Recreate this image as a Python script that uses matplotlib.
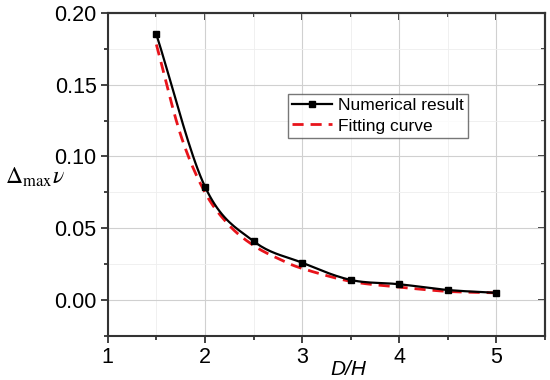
import matplotlib
matplotlib.use('Agg')
import matplotlib.pyplot as plt
import numpy as np
from matplotlib.ticker import MultipleLocator, FormatStrFormatter

# data
dh = [1.5, 2.0, 2.5, 3.0, 3.5, 4.0, 4.5, 5.0]
numerical = [0.185, 0.079, 0.041, 0.026, 0.014, 0.011, 0.007, 0.005]
fit_x = [1.5, 1.75, 2.0, 2.25, 2.5, 2.75, 3.0, 3.5, 4.0, 4.5, 5.0]
fit_y = [0.178, 0.115, 0.075, 0.052, 0.038, 0.029, 0.022, 0.013, 0.009, 0.006, 0.005]


def smooth(x, y, n=20):
    # catmull-rom spline, only for drawing a smooth line through the points
    x = np.asarray(x, float)
    y = np.asarray(y, float)
    px = np.concatenate([[2 * x[0] - x[1]], x, [2 * x[-1] - x[-2]]])
    py = np.concatenate([[2 * y[0] - y[1]], y, [2 * y[-1] - y[-2]]])
    xs, ys = [], []
    t = np.linspace(0, 1, n, endpoint=False)
    for i in range(1, len(px) - 2):
        for p, out in ((px, xs), (py, ys)):
            p0, p1, p2, p3 = p[i - 1], p[i], p[i + 1], p[i + 2]
            out.extend(0.5 * (2 * p1 + (-p0 + p2) * t + (2 * p0 - 5 * p1 + 4 * p2 - p3) * t ** 2
                              + (-p0 + 3 * p1 - 3 * p2 + p3) * t ** 3))
    xs.append(x[-1])
    ys.append(y[-1])
    return xs, ys


plt.rcParams['font.family'] = ['Liberation Sans', 'DejaVu Sans']
plt.rcParams['mathtext.fontset'] = 'stix'

fig = plt.figure(figsize=(5.5, 3.8), dpi=100)
ax = fig.add_axes([0.196, 0.116, 0.795, 0.850])

sx, sy = smooth(dh, numerical)
ax.plot(sx, sy, color='black', lw=1.6, zorder=3)
ax.plot(dh, numerical, 's', color='black', ms=5, zorder=4)
ax.plot([], [], '-s', color='black', lw=1.6, ms=4, label='Numerical result')

fx, fy = smooth(fit_x, fit_y)
ax.plot(fx, fy, '--', color='#e8141b', lw=2.0, dashes=(4, 2.5), zorder=2,
        label='Fitting curve')

ax.set_xlim(1, 5.5)
ax.set_ylim(-0.025, 0.20)
ax.xaxis.set_major_locator(MultipleLocator(1))
ax.xaxis.set_minor_locator(MultipleLocator(0.5))
ax.yaxis.set_major_locator(MultipleLocator(0.05))
ax.yaxis.set_minor_locator(MultipleLocator(0.025))
ax.yaxis.set_major_formatter(FormatStrFormatter('%.2f'))

ax.grid(which='major', color='#d0d0d0', lw=0.8)
ax.grid(which='minor', color='#eeeeee', lw=0.6)
ax.set_axisbelow(True)

for s in ax.spines.values():
    s.set_color('#333333')
    s.set_linewidth(1.5)
ax.tick_params(which='both', direction='out', color='#333333', width=1.3,
               labelsize=15.5)
ax.tick_params(which='major', length=5, pad=3)
ax.tick_params(which='minor', length=3)

# inward ticks on the top and right sides
top = ax.secondary_xaxis('top')
right = ax.secondary_yaxis('right')
top.xaxis.set_major_locator(MultipleLocator(1))
top.xaxis.set_minor_locator(MultipleLocator(0.5))
right.yaxis.set_major_locator(MultipleLocator(0.05))
right.yaxis.set_minor_locator(MultipleLocator(0.025))
for sec in (top, right):
    sec.tick_params(which='both', direction='in', color='#333333', width=1.3,
                    labeltop=False, labelright=False)
    sec.tick_params(which='major', length=5)
    sec.tick_params(which='minor', length=3)
    for s in sec.spines.values():
        s.set_color('#333333')
        s.set_linewidth(1.5)

ax.set_xlabel('D/H', fontsize=15, style='italic')
ax.xaxis.set_label_coords(0.55, -0.075)
ax.set_ylabel(r'$\Delta_{\mathrm{max}}\nu$', fontsize=17, rotation=0,
              ha='left', va='center')
ax.yaxis.set_label_coords(-0.235, 0.49)

leg = ax.legend(loc='upper left', bbox_to_anchor=(0.412, 0.75), fontsize=12.5,
                frameon=True, fancybox=False, edgecolor='#555555',
                handlelength=2.3, borderpad=0.25, labelspacing=0.3,
                handletextpad=0.35, borderaxespad=0)
leg.get_frame().set_linewidth(1.0)

fig.savefig('out.png', dpi=100)
